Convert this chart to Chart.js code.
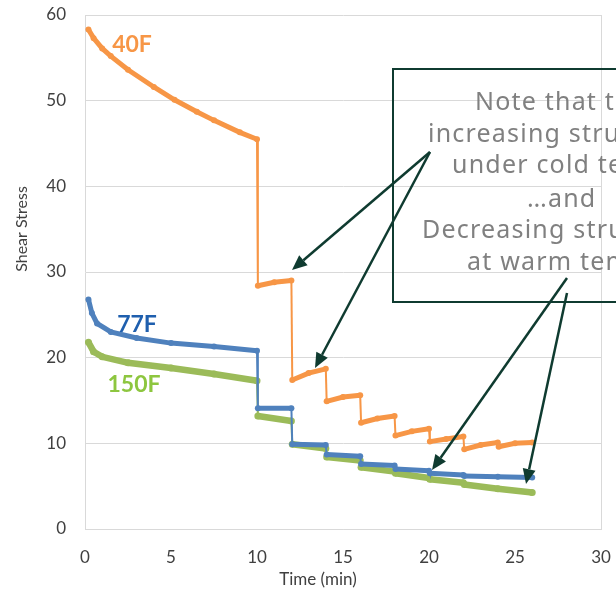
<!DOCTYPE html>
<html>
<head>
<meta charset="utf-8">
<script src="https://cdn.jsdelivr.net/npm/chart.js@4"></script>
<style>
  html, body { margin: 0; padding: 0; background: #fff; overflow: hidden; }
  #wrap { position: relative; width: 616px; height: 593px; }
</style>
</head>
<body>
<div id="wrap"><canvas id="chart" width="616" height="593"></canvas></div>
<script>
    // Dados (tempo em min, tensão de cisalhamento)
    const time40 = [0.2, 0.5, 1, 1.5, 2.5, 4, 5.2, 6.5, 7.5, 9, 10, 10.05, 11, 12, 12.05, 13, 14, 14.05, 15, 16, 16.05, 17, 18, 18.05, 19, 20, 20.05, 21, 22, 22.05, 23, 24, 24.05, 25, 26];
    const stress40 = [58.3, 57.3, 56.1, 55.2, 53.6, 51.6, 50.1, 48.7, 47.7, 46.3, 45.5, 28.4, 28.8, 29.0, 17.4, 18.2, 18.7, 14.9, 15.4, 15.6, 12.4, 12.9, 13.2, 10.9, 11.4, 11.7, 10.2, 10.5, 10.8, 9.3, 9.8, 10.1, 9.6, 10.0, 10.1];

    const time77 = [0.2, 0.4, 0.7, 1.5, 3, 5, 7.5, 10, 10.05, 12, 12.05, 14, 14.05, 16, 16.05, 18, 18.05, 20, 20.05, 22, 22.05, 24, 26];
    const stress77 = [26.8, 25.2, 24.0, 23.0, 22.3, 21.7, 21.3, 20.8, 14.1, 14.1, 9.9, 9.8, 8.7, 8.5, 7.6, 7.4, 7.0, 6.8, 6.5, 6.3, 6.2, 6.1, 6.0];

    const time150 = [0.2, 0.5, 1, 2.5, 5, 7.5, 10, 10.05, 12, 12.05, 14, 14.05, 16, 16.05, 18, 18.05, 20, 20.05, 22, 22.05, 24, 26];
    const stress150 = [21.8, 20.7, 20.1, 19.4, 18.8, 18.1, 17.3, 13.2, 12.6, 9.9, 9.4, 8.4, 8.0, 7.2, 6.7, 6.5, 5.95, 5.8, 5.4, 5.2, 4.7, 4.25];

    const seriesNames = ['40F', '77F', '150F'];
    const xTicks = [0, 5, 10, 15, 20, 25, 30];
    const yTicks = [0, 10, 20, 30, 40, 50, 60];

    const noteLines = [
        { text: 'Note that the', x: 475, y: 110 },
        { text: 'increasing structure', x: 428, y: 142 },
        { text: 'under cold temps', x: 452, y: 173 },
        { text: '…and', x: 527, y: 207 },
        { text: 'Decreasing structure', x: 422, y: 238 },
        { text: 'at warm temps', x: 467, y: 270 }
    ];

    function toPoints(xs, ys) {
        return xs.map((x, i) => ({ x: x, y: ys[i] }));
    }

    // linhas verticais (degraus) mais finas
    function segWidth(thick) {
        return ctx => (ctx.p1.parsed.x - ctx.p0.parsed.x < 0.1 ? 2 : thick);
    }

    function arrow(c, x0, y0, x1, y1) {
        const ang = Math.atan2(y1 - y0, x1 - x0);
        const len = 15, half = 6.5;
        const bx = x1 - len * Math.cos(ang), by = y1 - len * Math.sin(ang);
        c.beginPath();
        c.moveTo(x0, y0);
        c.lineTo(bx, by);
        c.stroke();
        c.beginPath();
        c.moveTo(x1, y1);
        c.lineTo(bx + half * Math.sin(ang), by - half * Math.cos(ang));
        c.lineTo(bx - half * Math.sin(ang), by + half * Math.cos(ang));
        c.closePath();
        c.fill();
    }

    const overlay = {
        id: 'overlay',
        afterDatasetsDraw(chart) {
            const c = chart.ctx;
            c.save();

            // rótulos das séries
            c.font = 'bold 23px Lato';
            c.textAlign = 'center';
            c.textBaseline = 'middle';
            c.fillStyle = '#f79646';
            c.fillText(seriesNames[0], 132, 45);
            c.fillStyle = '#1f5fae';
            c.fillText(seriesNames[1], 137, 325);
            c.fillStyle = '#8dc63f';
            c.fillText(seriesNames[2], 134, 385);

            // títulos dos eixos
            c.fillStyle = '#404040';
            c.font = '17px Lato';
            c.fillText('Time (min)', 318, 580);
            c.save();
            c.translate(22, 229);
            c.rotate(-Math.PI / 2);
            c.font = '16px Lato';
            c.fillText('Shear Stress', 0, 0);
            c.restore();

            // caixa de nota
            c.strokeStyle = '#0f3b30';
            c.lineWidth = 2;
            c.strokeRect(393, 69, 300, 233);
            c.fillStyle = '#808080';
            c.font = '25px "Noto Sans"';
            c.letterSpacing = '1.2px';
            c.textAlign = 'left';
            c.textBaseline = 'alphabetic';
            noteLines.forEach(l => c.fillText(l.text, l.x, l.y));
            c.letterSpacing = '0px';

            // setas
            c.fillStyle = '#0f3b30';
            c.lineWidth = 2.5;
            arrow(c, 430, 152, 292, 270);
            arrow(c, 430, 152, 315, 368);
            arrow(c, 567, 278, 432, 470);
            arrow(c, 567, 293, 526, 484);

            c.restore();
        }
    };

    const ctx = document.getElementById('chart').getContext('2d');
    new Chart(ctx, {
        type: 'line',
        data: {
            datasets: [
                {
                    label: seriesNames[0],
                    data: toPoints(time40, stress40),
                    borderColor: '#f79646',
                    backgroundColor: '#f79646',
                    pointRadius: 3,
                    pointBorderWidth: 0,
                    borderWidth: 5,
                    segment: { borderWidth: segWidth(5) }
                },
                {
                    label: seriesNames[1],
                    data: toPoints(time77, stress77),
                    borderColor: '#4f81bd',
                    backgroundColor: '#4f81bd',
                    pointRadius: 3,
                    pointBorderWidth: 0,
                    borderWidth: 5,
                    segment: { borderWidth: segWidth(5) }
                },
                {
                    label: seriesNames[2],
                    data: toPoints(time150, stress150),
                    borderColor: '#9bbb59',
                    backgroundColor: '#9bbb59',
                    pointRadius: 3.5,
                    pointBorderWidth: 0,
                    borderWidth: 6.5,
                    segment: { borderWidth: segWidth(6.5) }
                }
            ]
        },
        options: {
            responsive: false,
            animation: false,
            layout: { padding: { left: 0, right: 15, top: 15, bottom: 0 } },
            plugins: {
                legend: { display: false },
                tooltip: { enabled: false }
            },
            scales: {
                x: {
                    type: 'linear',
                    min: 0,
                    max: 30,
                    afterFit: s => { s.height = 64; s.paddingLeft = 0; s.paddingRight = 0; },
                    afterBuildTicks: s => { s.ticks = xTicks.map(v => ({ value: v })); },
                    grid: {
                        drawTicks: false,
                        color: c => (c.tick && c.tick.value === 30 ? '#d9d9d9' : 'rgba(0,0,0,0)')
                    },
                    border: { color: '#d9d9d9' },
                    ticks: { padding: 18, color: '#404040', font: { family: 'Lato', size: 17 } }
                },
                y: {
                    min: 0,
                    max: 60,
                    afterFit: s => { s.width = 85; s.paddingTop = 0; s.paddingBottom = 0; },
                    afterBuildTicks: s => { s.ticks = yTicks.map(v => ({ value: v })); },
                    grid: { drawTicks: false, color: '#d9d9d9' },
                    border: { color: '#d9d9d9' },
                    ticks: { padding: 19, color: '#404040', font: { family: 'Lato', size: 17 } }
                }
            }
        },
        plugins: [overlay]
    });
</script>
</body>
</html>
